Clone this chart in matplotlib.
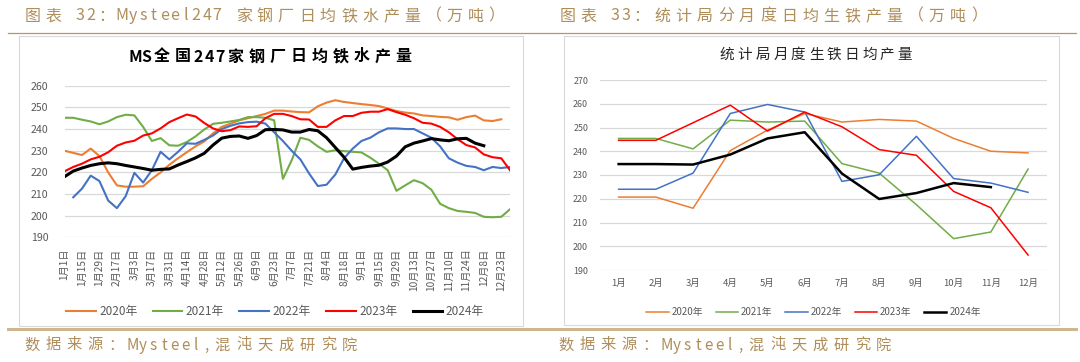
import numpy as np
import matplotlib
matplotlib.use('Agg')
import matplotlib.pyplot as plt
from matplotlib.patches import Rectangle

plt.rcParams['font.family'] = ['Noto Sans CJK SC', 'DejaVu Sans']

# ---------------- data ----------------
years = ['2020年', '2021年', '2022年', '2023年', '2024年']
colors = ['#ED7D31', '#70AD47', '#4472C4', '#FF0000', '#000000']

# weekly categories (every second one is labelled)
weeks = ['1月1日', '1月8日', '1月15日', '1月22日', '1月29日', '2月10日', '2月17日', '2月24日',
         '3月3日', '3月10日', '3月17日', '3月24日', '3月31日', '4月7日', '4月14日', '4月21日',
         '4月28日', '5月5日', '5月12日', '5月19日', '5月26日', '6月2日', '6月9日', '6月16日',
         '6月23日', '6月30日', '7月7日', '7月14日', '7月21日', '7月28日', '8月4日', '8月11日',
         '8月18日', '8月25日', '9月1日', '9月8日', '9月15日', '9月22日', '9月29日', '10月6日',
         '10月13日', '10月20日', '10月27日', '11月3日', '11月10日', '11月17日', '11月24日',
         '12月1日', '12月8日', '12月15日', '12月23日', '12月30日']

ms_2020 = [230, 229, 228, 231, 227.5, 220, 214, 213.4, 213.4, 213.6, 217, 220, 223.5, 226.5,
           229.3, 232, 234.3, 238, 241, 242.5, 244, 245, 246, 247, 248.5, 248.5, 248.1, 247.8,
           247.7, 250.5, 252.2, 253.3, 252.5, 252, 251.5, 251.1, 250.6, 249.5, 248.3, 247.6,
           247.2, 246.3, 246, 245.6, 245.4, 244.3, 245.5, 246.2, 244, 243.7, 244.5, None]
ms_2021 = [245.2, 245.2, 244.3, 243.5, 242.2, 243.5, 245.5, 246.6, 246.3, 241, 234.5, 235.8,
           232.5, 232.3, 234, 236.6, 239.8, 242.4, 242.9, 243.5, 244.2, 245.5, 245.5, 245.2,
           244, 217, 225.5, 236, 235, 232, 229.5, 230.2, 229.8, 229.5, 229.2, 226.8, 224, 221,
           211.5, 214, 216.4, 215, 212, 205.5, 203.5, 202.2, 201.8, 201.3, 199.5, 199.3, 199.5,
           203]
ms_2022 = [None, 208.5, 212.5, 218.5, 216, 207, 203.5, 209, 219.8, 215.3, 221, 229.5, 226,
           229.5, 233.4, 233.2, 235, 237, 240, 241.5, 242.6, 243.2, 243.4, 242.5, 238.5, 234.5,
           230, 226, 219.5, 213.7, 214.3, 219, 226.5, 231, 234.5, 236, 238.5, 240.3, 240.3, 240,
           240, 238, 236, 232, 226.5, 224.5, 223, 222.5, 221, 222.5, 222, 222.5]
ms_2023 = [220.5, 222.5, 224, 226, 227.2, 229.3, 232.3, 233.8, 234.6, 237, 238, 240.3, 243.2,
           245, 246.7, 245.8, 242.8, 240.3, 239, 239.5, 241.2, 241, 241.3, 245, 247, 247, 246,
           244.5, 244.4, 241, 241, 244, 246, 246, 247.5, 248, 248, 249.2, 247.8, 246.6, 245,
           242.9, 242.5, 241, 238.5, 235.3, 232.6, 231.5, 228.3, 227, 226.5, 221]
ms_2024 = [218, 220.6, 222, 223.2, 224, 224.4, 224, 223.2, 222.5, 221.8, 221, 221.4, 221.6,
           223.4, 225, 226.7, 228.8, 232.6, 235.8, 236.6, 236.8, 235.7, 237, 239.7, 239.8,
           239.6, 238.6, 238.6, 239.8, 239.2, 236, 231.5, 227, 221.5, 222.3, 222.9, 223.3,
           224.8, 227.5, 231.8, 233.5, 234.5, 235.6, 235, 234.6, 235.5, 235.7, 233.5, 232.3,
           None, None, None]

months = ['1月', '2月', '3月', '4月', '5月', '6月', '7月', '8月', '9月', '10月', '11月', '12月']
nbs_2020 = [220.7, 220.7, 216, 240.3, 248.9, 255.9, 252.3, 253.4, 252.7, 245.4, 240, 239.3]
nbs_2021 = [245.4, 245.4, 241, 253.1, 252.3, 252.7, 234.8, 230.8, 217.5, 203.2, 206, 232.5]
nbs_2022 = [224, 224, 230.8, 255.9, 259.7, 256.5, 227.3, 230.1, 246.3, 228.5, 226.6, 222.7]
nbs_2023 = [244.6, 244.6, 252, 259.4, 248.5, 256.5, 250.3, 240.7, 238.3, 223.1, 216.2, 196.3]
nbs_2024 = [234.6, 234.6, 234.4, 238.6, 245.4, 248, 230.6, 219.9, 222.4, 226.6, 224.9, None]

ms_series = [ms_2020, ms_2021, ms_2022, ms_2023, ms_2024]
nbs_series = [nbs_2020, nbs_2021, nbs_2022, nbs_2023, nbs_2024]


def to_arr(v):
    return np.array([np.nan if x is None else x for x in v], dtype=float)


# ---------------- figure ----------------
W, H = 1080, 362
fig = plt.figure(figsize=(W / 100, H / 100), dpi=100)
fig.patch.set_facecolor('white')

bg = fig.add_axes([0, 0, 1, 1])
bg.set_xlim(0, W)
bg.set_ylim(H, 0)
bg.axis('off')

gold = '#AF8E5A'
gray = '#595959'


def spaced_text(ax, x, y, s, size, adv, center=False, **kw):
    # one char at a time so the wide letter spacing of the original is kept
    ws = [adv if ord(c) > 0x2e80 else adv / 2 for c in s]
    if center:
        x = x - sum(ws) / 2
    for c, w in zip(s, ws):
        if c != ' ':
            ax.text(x + w / 2, y, c, fontsize=size, ha='center', va='center', **kw)
        x += w


# header / footer
spaced_text(bg, 22, 16, '图表 32：Mysteel247 家钢厂日均铁水产量（万吨）', 11.5, 21.1, color=gold)
spaced_text(bg, 557, 16, '图表 33：统计局分月度日均生铁产量（万吨）', 11.5, 21.1, color=gold)
bg.plot([8, 1076], [32.5, 32.5], color='#B9975B', lw=0.9)
bg.plot([8, 1076], [328.5, 328.5], color='#CDB78F', lw=2.2)
spaced_text(bg, 21, 345, '数据来源：Mysteel,混沌天成研究院', 11, 21.2, color=gold)
spaced_text(bg, 555, 345, '数据来源：Mysteel,混沌天成研究院', 11, 21.2, color=gold)

# chart boxes
bg.add_patch(Rectangle((18.5, 35.5), 504, 290.5, fill=False, ec='#D9D9D9', lw=0.8))
bg.add_patch(Rectangle((564, 35.5), 495, 289.5, fill=False, ec='#D9D9D9', lw=0.8))

# chart titles
spaced_text(bg, 272, 56.5, 'MS全国247家钢厂日均铁水产量', 11.5, 21, center=True,
            color='#000000', fontweight='bold')
spaced_text(bg, 816, 55, '统计局月度生铁日均产量', 10.5, 17.8, center=True, color='#262626')


def style_axes(ax, ypad, yfs):
    for s in ax.spines.values():
        s.set_visible(False)
    ax.set_facecolor('none')
    ax.yaxis.grid(True, color='#D9D9D9', lw=0.9)
    ax.set_axisbelow(True)
    ax.tick_params(axis='both', length=0, colors=gray)
    ax.tick_params(axis='y', pad=ypad, labelsize=yfs)


# ---------------- left chart ----------------
ax1 = fig.add_axes([64.5 / W, 1 - 237.4 / H, 445.5 / W, (237.4 - 85.7) / H])
x1 = np.arange(len(weeks))
for vals, lab, c in zip(ms_series, years, colors):
    ax1.plot(x1, to_arr(vals), color=c, lw=2.2 if lab == '2024年' else 1.5, label=lab)
ax1.set_xlim(0, len(weeks) - 1)
ax1.set_ylim(190, 260)
ax1.set_yticks(range(190, 261, 10))
ax1.set_xticks(x1[::2])
ax1.set_xticklabels(weeks[::2], rotation=90, fontsize=7.3)
style_axes(ax1, 11.5, 7.6)
ax1.tick_params(axis='x', pad=8)

h, l = ax1.get_legend_handles_labels()
fig.legend(h, l, loc='center', bbox_to_anchor=(275 / W, 1 - 311.5 / H), ncol=5,
           frameon=False, fontsize=8.5, handlelength=2.5, handletextpad=0.3,
           columnspacing=1.3, labelcolor=gray)

# ---------------- right chart ----------------
ax2 = fig.add_axes([600 / W, 1 - 270 / H, 446.7 / W, 190 / H])
x2 = np.arange(1, len(months) + 1)
for vals, lab, c in zip(nbs_series, years, colors):
    ax2.plot(x2, to_arr(vals), color=c, lw=1.8 if lab == '2024年' else 1.1, label=lab)
ax2.set_xlim(0.5, len(months) + 0.5)
ax2.set_ylim(190, 270)
ax2.set_yticks(range(190, 271, 10))
ax2.set_xticks(x2)
ax2.set_xticklabels(months, fontsize=6.8)
style_axes(ax2, 8.6, 6.4)
ax2.tick_params(axis='x', pad=6.5)

h, l = ax2.get_legend_handles_labels()
fig.legend(h, l, loc='center', bbox_to_anchor=(813.6 / W, 1 - 312.5 / H), ncol=5,
           frameon=False, fontsize=7, handlelength=2.3, handletextpad=0.3,
           columnspacing=1.3, labelcolor=gray)

fig.savefig('out.png', dpi=100, facecolor='white')
